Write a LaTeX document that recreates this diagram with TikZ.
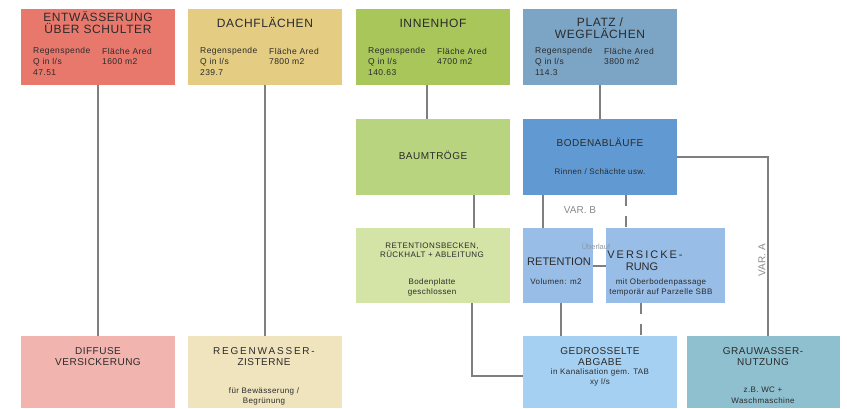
\documentclass[tikz,border=0pt]{standalone}
\usepackage{fontspec}
\setmainfont{Liberation Sans}
\newfontfamily\spfont[LetterSpace=5]{Liberation Sans}
\newfontfamily\wdfont[LetterSpace=18]{Liberation Sans}
\usetikzlibrary{calc}
\definecolor{cEnt}{HTML}{E9786C}
\definecolor{cDach}{HTML}{E4CC82}
\definecolor{cInn}{HTML}{A8C65A}
\definecolor{cPlatz}{HTML}{7BA4C5}
\definecolor{cBaum}{HTML}{B8D47F}
\definecolor{cBoden}{HTML}{6199D2}
\definecolor{cRbeck}{HTML}{D4E4A6}
\definecolor{cRet}{HTML}{98BDE6}
\definecolor{cDiff}{HTML}{F2B4AE}
\definecolor{cRegen}{HTML}{F0E4BE}
\definecolor{cGedr}{HTML}{A5D0F1}
\definecolor{cGrau}{HTML}{8FC0D0}
\definecolor{txt}{HTML}{2B2B2B}
\definecolor{lgray}{HTML}{7F7F7F}
\definecolor{vgray}{HTML}{8A8A8A}
\definecolor{ugray}{HTML}{8E9AA6}
\tikzset{
  box/.style={rectangle, inner sep=0pt, anchor=north west, draw=none},
  conn/.style={draw=lgray, line width=2pt},
  dconn/.style={conn, dash pattern=on 11pt off 10pt},
  bigt/.style={font={\spfont\fontsize{12}{12}\selectfont}, text=txt, align=center, inner sep=0pt},
  midt/.style={font={\spfont\fontsize{10}{11}\selectfont}, text=txt, align=center, inner sep=0pt},
  smt/.style={font={\spfont\fontsize{8}{10}\selectfont}, text=txt, align=center, inner sep=0pt},
  tabt/.style={font={\spfont\fontsize{8.5}{10}\selectfont}, text=txt, anchor=west, inner sep=0pt},
  vart/.style={font={\fontsize{10}{11}\selectfont}, text=vgray, inner sep=0pt},
}
\begin{document}
\begin{tikzpicture}[x=1pt, y=-1pt]
\useasboundingbox (0,0) rectangle (847,408);
\fill[white] (0,0) rectangle (847,408);
% boxes
\node[box, fill=cEnt, minimum width=154pt, minimum height=76pt] (b1) at (21,9) {};
\node[box, fill=cDach, minimum width=154pt, minimum height=76pt] (b2) at (188,9) {};
\node[box, fill=cInn, minimum width=154pt, minimum height=76pt] (b3) at (356,9) {};
\node[box, fill=cPlatz, minimum width=154pt, minimum height=76pt] (b4) at (523,9) {};
\node[box, fill=cBaum, minimum width=154pt, minimum height=76pt] (baum) at (356,119) {};
\node[box, fill=cBoden, minimum width=154pt, minimum height=76pt] (boden) at (523,119) {};
\node[box, fill=cRbeck, minimum width=154pt, minimum height=75pt] (rbeck) at (356,228) {};
\node[box, fill=cRet, minimum width=70pt, minimum height=75pt] (ret) at (523,228) {};
\node[box, fill=cRet, minimum width=119pt, minimum height=75pt] (vers) at (606,228) {};
\node[box, fill=cDiff, minimum width=154pt, minimum height=72pt] (diff) at (21,336) {};
\node[box, fill=cRegen, minimum width=154pt, minimum height=72pt] (regen) at (188,336) {};
\node[box, fill=cGedr, minimum width=154pt, minimum height=72pt] (gedr) at (523,336) {};
\node[box, fill=cGrau, minimum width=153pt, minimum height=72pt] (grau) at (687,336) {};
% connectors
\draw[conn] (b1.south) -- (diff.north);
\draw[conn] (b2.south) -- (regen.north);
\draw[conn] ([xshift=71pt]b3.south west) -- ([xshift=71pt]baum.north west);
\draw[conn] (b4.south) -- (boden.north);
\draw[conn] ([xshift=118pt]baum.south west) -- ([xshift=118pt]rbeck.north west);
\draw[conn] ([xshift=116pt]rbeck.south west) |- ([yshift=-40pt]gedr.north west);
\draw[conn] ([xshift=20pt]boden.south west) -- ([xshift=20pt]ret.north west);
\draw[dconn] ([xshift=103pt]boden.south west) -- ([xshift=20pt]vers.north west);
\draw[conn] (boden.east) -| ([xshift=81pt]grau.north west);
\draw[conn] (ret.east) -- (vers.west);
\draw[conn] ([xshift=38pt]ret.south west) -- ([xshift=38pt]gedr.north west);
\draw[dconn] ([xshift=35pt]vers.south west) -- ([xshift=118pt]gedr.north west);
% row 1 texts
\node[bigt] (t1) at (98,23) {ENTWÄSSERUNG\\ÜBER SCHULTER};
\node[bigt] (t2) at (265,23) {DACHFLÄCHEN};
\node[bigt] (t3) at (433,23) {INNENHOF};
\node[bigt] (t4) at (600,28.5) {PLATZ /\\WEGFLÄCHEN};
\foreach \bx/\val/\area in {21/47.51/1600 m2, 188/239.7/7800 m2, 356/140.63/4700 m2, 523/114.3/3800 m2}{
  \node[tabt] at (\bx+12,51) {Regenspende};
  \node[tabt] at (\bx+12,62) {Q in l/s};
  \node[tabt] at (\bx+12,73) {\val};
  \node[tabt] at (\bx+81,51) {Fläche Ared};
  \node[tabt] at (\bx+81,62) {\area};
}
% row 2
\node[midt] (tbaum) at (433,155) {BAUMTRÖGE};
\node[midt] (tboden) at (600,142) {BODENABLÄUFE};
\node[smt] (tboden2) at (600,172) {Rinnen / Schächte usw.};
% row 3
\node[smt, font={\spfont\fontsize{8}{8.5}\selectfont}] (trb) at (432,250) {RETENTIONSBECKEN,\\RÜCKHALT + ABLEITUNG};
\node[smt] (trb2) at (432,287) {Bodenplatte\\geschlossen};
\node[midt, font={\fontsize{11}{12}\selectfont}] (tret) at (559,262) {RETENTION};
\node[smt] (tret2) at (556,282) {Volumen: m2};
\node[midt, font={\wdfont\fontsize{11}{12}\selectfont}] (tvers) at (645,255) {VERSICKE-};
\node[midt, font={\fontsize{11}{12}\selectfont}] (tvers1) at (642,267) {RUNG};
\node[smt] (tvers2) at (661,287) {mit Oberbodenpassage\\temporär auf Parzelle SBB};
\node[font={\fontsize{7.5}{8}\selectfont}, text=ugray, inner sep=0pt] (ueb) at (596,246) {Überlauf};
% row 4
\node[midt] (tdiff) at (98,356.5) {DIFFUSE\\VERSICKERUNG};
\node[midt, font={\wdfont\fontsize{10}{11}\selectfont}] (tregen) at (264,351) {REGENWASSER-};
\node[midt] (tregen1) at (264,362) {ZISTERNE};
\node[smt] (tregen2) at (264,396) {für Bewässerung /\\Begrünung};
\node[midt] (tgedr) at (600,356.5) {GEDROSSELTE\\ABGABE};
\node[smt, font={\spfont\fontsize{8}{9.5}\selectfont}] (tgedr2) at (600,377.5) {in Kanalisation gem. TAB\\xy l/s};
\node[midt] (tgrau) at (763,356.5) {GRAUWASSER-\\NUTZUNG};
\node[smt, font={\spfont\fontsize{8}{11}\selectfont}] (tgrau2) at (763,395.5) {z.B. WC +\\Waschmaschine};
% variant labels
\node[vart] (varb) at (580,210) {VAR. B};
\node[vart, rotate=90] (vara) at (762,260) {VAR. A};
\end{tikzpicture}
\end{document}
